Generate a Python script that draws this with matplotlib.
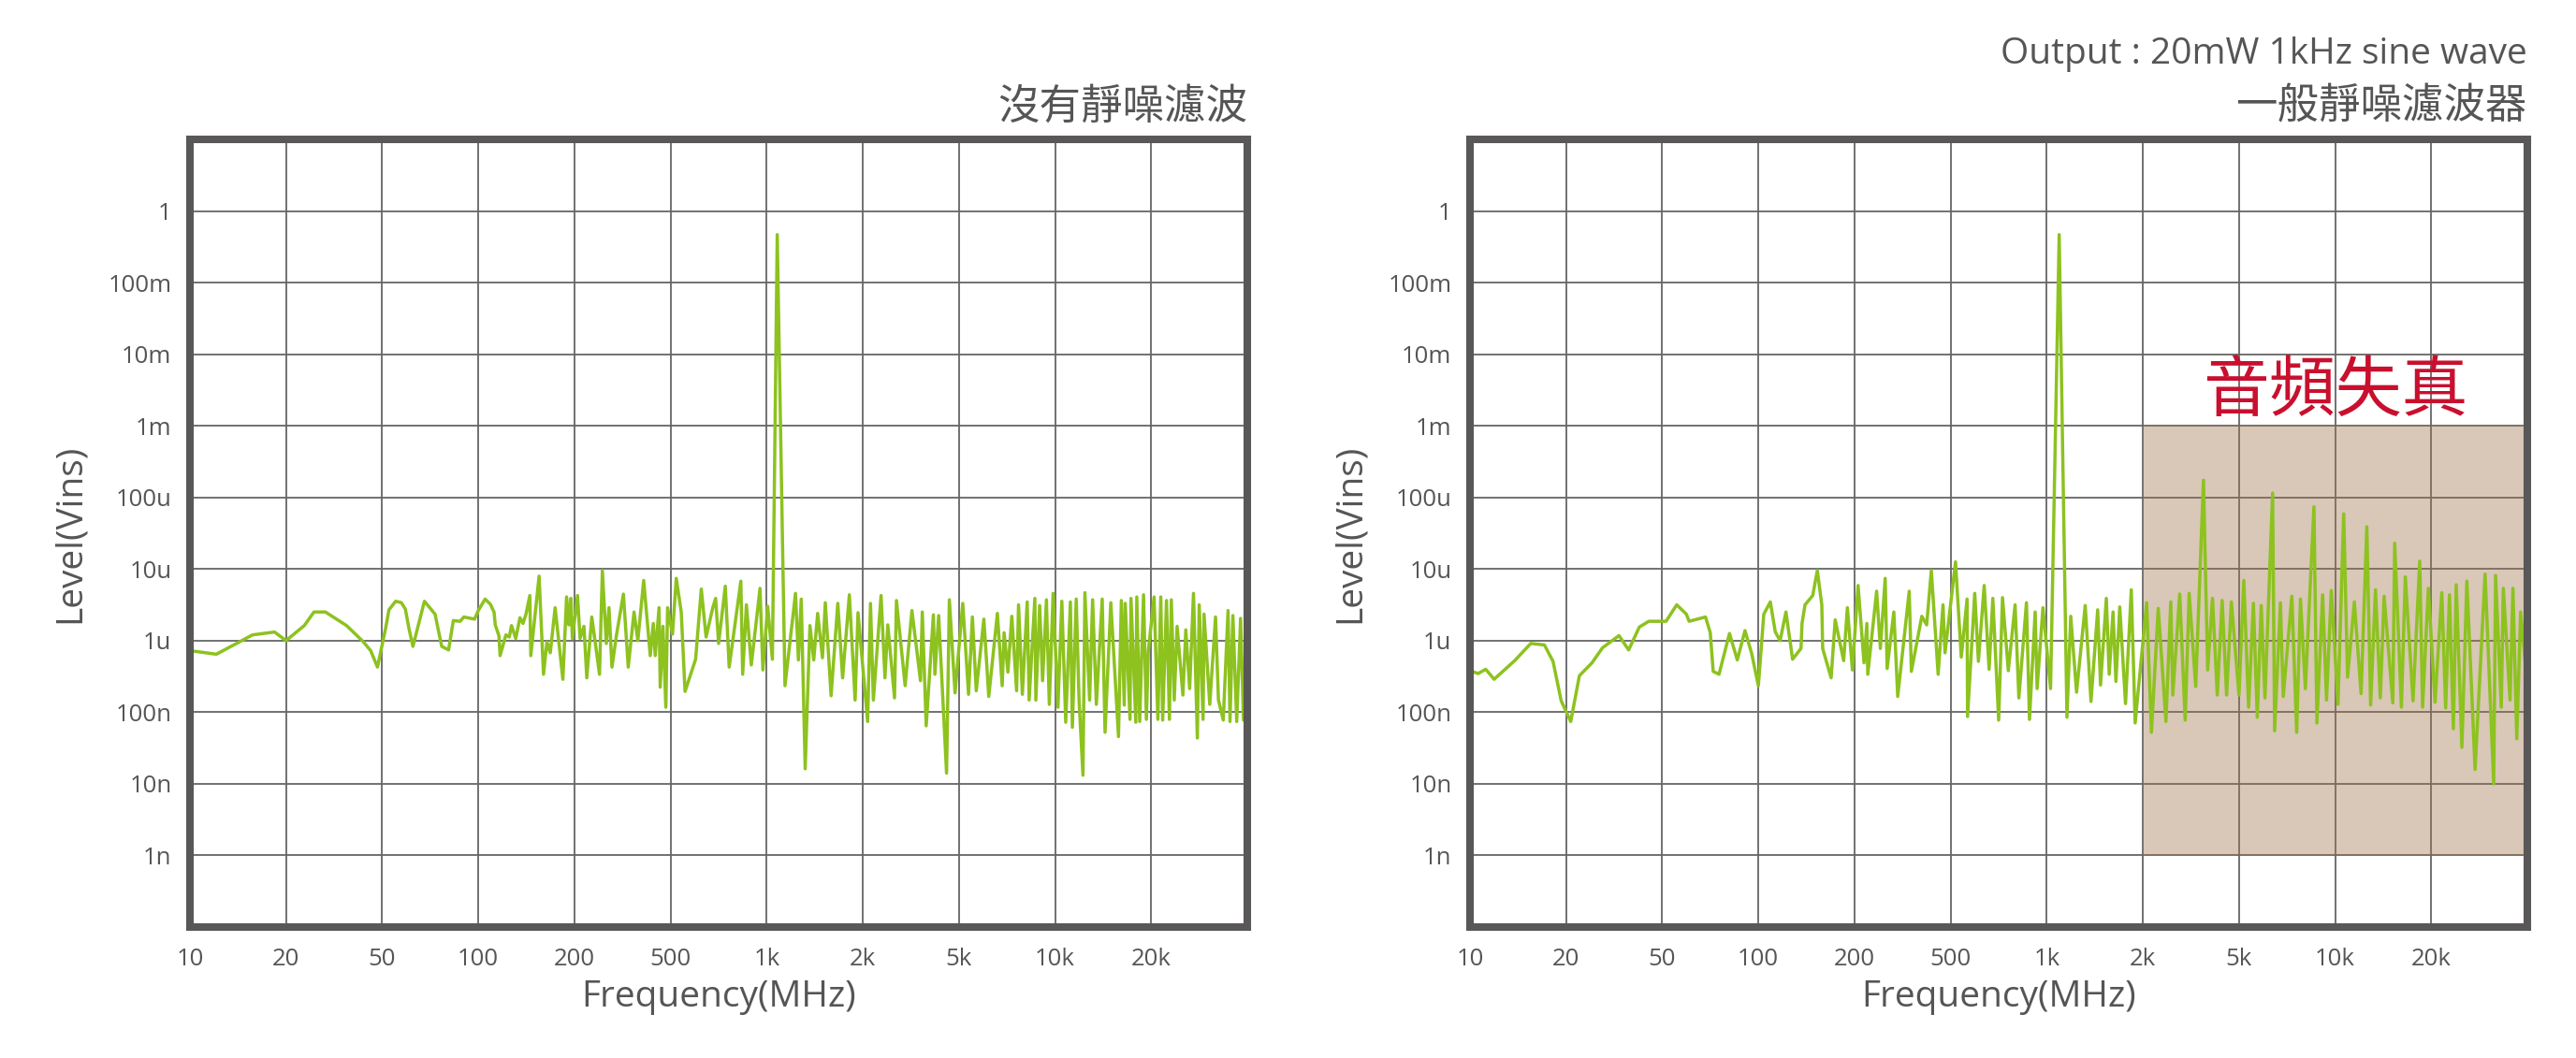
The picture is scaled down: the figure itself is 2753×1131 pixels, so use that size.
import numpy as np
import matplotlib
matplotlib.use("Agg")
import matplotlib.pyplot as plt
from matplotlib.ticker import NullLocator
from matplotlib.patches import Rectangle

plt.rcParams["font.family"] = ["Open Sans", "Noto Sans CJK TC", "DejaVu Sans"]

# ---------------- AXIS SETUP DATA ---------------- #
tick_freqs = [10, 20, 50, 100, 200, 500, 1000, 2000, 5000, 10000, 20000, 50000]
xtick_labels = ["10", "20", "50", "100", "200", "500", "1k", "2k", "5k", "10k", "20k"]
ytick_vals = [1e-9, 1e-8, 1e-7, 1e-6, 1e-5, 1e-4, 1e-3, 1e-2, 1e-1, 1]
ytick_labels = ["1n", "10n", "100n", "1u", "10u", "100u", "1m", "10m", "100m", "1"]

# ---------------- SPECTRUM: NO FILTER (left) ---------------- #
freq_left = [
    10, 12.1, 15.7, 18.4, 20, 23.8, 26.1, 29.1, 35.6, 41.6, 44.8, 47.8,
    51.4, 52.5, 55.1, 57.4, 59.1, 60.7, 62.4, 65.5, 67.8, 73.2, 76.8, 80.7, 83.5, 87.7, 90.1, 97.3,
    100, 105, 109, 112, 113, 116, 117, 122, 125, 127, 131, 135, 138, 141, 145, 146, 155, 160, 164,
    168, 174, 184, 189, 192, 195, 197,
    206, 211, 219, 225, 236, 254, 261, 271, 278, 286, 299, 319, 334, 353, 366, 387, 412, 424, 432,
    448, 453, 465, 478, 486,
    507, 521, 540, 555, 599, 624, 646, 678, 692, 707, 742, 763, 830, 841, 864, 895, 953, 973,
    1007, 1042, 1079, 1141, 1231, 1257, 1283, 1320, 1366, 1404, 1444, 1495, 1526, 1591, 1670, 1729,
    1815, 1892, 1932,
    2094, 2152, 2212, 2380, 2470, 2538, 2706, 2756, 2994, 3194, 3466, 3526, 3660, 3920, 3976, 4122,
    4444, 4564, 4818,
    5140, 5359, 5510, 5665, 5985, 6200, 6598, 6830, 6925, 7119, 7320, 7579, 7685, 7900, 8180, 8295,
    8645, 8706, 8950, 9140, 9397, 9595, 9862,
    10210, 10500, 10800, 11170, 11330, 11650, 11890, 12230, 12400, 12830, 13110, 13470, 14050, 14340,
    14950, 15800, 16130, 16470, 16590, 17170, 17290, 17900, 18030, 18410, 18930, 19320, 19590,
    20560, 21320, 21920, 22320, 23150, 23800, 24240, 24920, 25610, 27060, 27820, 28860, 29940, 31060,
    31620, 32800, 33100, 34960, 36940, 37980, 39760, 41620, 42400, 43580, 45200, 46900, 48200, 50000,
]
# level as log10(Vins)
lvl_left = [
    -6.14, -6.19, -5.92, -5.88, -6.00, -5.79, -5.60, -5.60, -5.79, -6.01, -6.14, -6.37,
    -5.80, -5.57, -5.45, -5.47, -5.56, -5.84, -6.08, -5.71, -5.45, -5.63, -6.08, -6.13, -5.72, -5.73, -5.67, -5.70,
    -5.58, -5.42, -5.49, -5.60, -5.78, -5.93, -6.21, -5.92, -5.95, -5.79, -5.97, -5.68, -5.76, -5.63, -5.37,
    -6.21, -5.10, -6.47, -6.02, -6.17, -5.54, -6.54, -5.39, -5.78, -5.41, -5.97,
    -5.37, -5.97, -5.80, -6.52, -5.67, -6.47, -5.02, -6.04, -5.54, -6.37, -5.91, -5.35, -6.37, -5.60, -6.00,
    -5.16, -6.21, -5.76, -6.21, -5.54, -6.65, -5.80, -6.93, -5.54,
    -5.91, -5.13, -5.60, -6.71, -6.26, -5.28, -5.95, -5.54, -5.41, -6.04, -5.24, -6.37, -5.17, -6.47, -5.50,
    -6.34, -5.27, -6.41,
    -5.52, -6.26, -0.33, -6.63, -5.34, -6.27, -5.42, -7.79, -5.79, -6.27, -5.62, -6.24, -5.47, -6.77, -5.48,
    -6.52, -5.36, -6.83, -5.61,
    -7.13, -5.48, -6.83, -5.37, -6.52, -5.78, -6.80, -5.44, -6.63, -5.58, -6.56, -5.60, -7.19, -5.64, -6.47,
    -5.65, -7.85, -5.43, -6.73,
    -5.48, -6.75, -5.67, -6.70, -5.70, -6.78, -5.62, -6.63, -5.89, -6.44, -5.66, -6.70, -5.50, -6.75, -5.46,
    -6.83, -5.41, -6.83, -5.51, -6.56, -5.43, -6.89, -5.34,
    -6.93, -5.45, -7.14, -5.46, -7.21, -5.42, -6.83, -7.88, -5.33, -6.83, -5.43, -6.89, -5.42, -7.28, -5.47,
    -7.34, -5.44, -6.90, -5.48, -7.10, -5.41, -7.14, -5.39, -7.13, -5.36, -7.10, -6.15,
    -5.39, -7.10, -5.39, -7.11, -5.44, -7.10, -5.43, -6.83, -5.80, -6.76, -5.85, -6.67, -5.34, -7.36, -5.50,
    -7.10, -5.63, -6.89, -5.67, -6.83, -7.11, -5.58, -7.13, -5.65, -7.13, -5.69, -7.11, -5.68,
]

# ---------------- SPECTRUM: NORMAL FILTER (right) ---------------- #
freq_right = [
    10, 10.6, 11.2, 11.9, 13.8, 15.5, 17.1, 18.2, 19.3, 20.9, 22.7, 25.6, 28.3, 33.1, 36.3, 40.2, 44.0,
    51.4, 55.5, 59.5, 60.7, 68.3, 70.7, 72.2, 75.3, 81.2, 85.9, 90.8, 95.3,
    100, 104, 109, 113, 117, 122, 128, 136, 137, 140, 148, 153, 158, 159, 169, 174, 185, 190, 197,
    207, 219, 225, 227, 247, 256, 268, 273, 291, 302, 337, 344, 380, 398, 416, 444, 465, 474,
    518, 540, 563, 565, 595, 611, 637, 660, 678, 707, 727, 758, 796, 818, 864, 883, 920, 933, 973,
    1028, 1094, 1157, 1189, 1240, 1320, 1376, 1444, 1474, 1537, 1569, 1613, 1647, 1693, 1765, 1840, 1892,
    2074, 2170, 2316, 2492, 2610, 2660, 2842, 2994, 3110, 3310, 3564, 3710, 3884, 4066, 4260, 4444, 4650,
    5000, 5177, 5359, 5548, 5705, 5870, 6030, 6372, 6465, 6740, 6880, 7320, 7580, 7790, 8070, 8585,
    8770, 9140, 9400, 9730,
    10210, 10640, 10940, 11490, 12060, 12570, 12920, 13380, 13850, 14240, 15160, 15370, 16130, 16590,
    17540, 18410, 18790, 19590,
    20740, 22120, 22950, 23800, 24700, 25380, 26790, 28090, 30380, 33420, 36280, 36940, 39000, 39760,
    42400, 43580, 45200, 46900, 50000,
]
lvl_right = [
    -6.42, -6.46, -6.40, -6.54, -6.28, -6.04, -6.06, -6.29, -6.84, -7.13, -6.49, -6.31, -6.10, -5.93, -6.13,
    -5.81, -5.73,
    -5.73, -5.50, -5.63, -5.73, -5.67, -5.89, -6.43, -6.47, -5.90, -6.27, -5.86, -6.18,
    -6.63, -5.63, -5.46, -5.88, -6.00, -5.60, -6.26, -6.11, -5.76, -5.50, -5.37, -5.02, -5.50, -6.11, -6.52,
    -5.71, -6.28, -5.54, -6.41,
    -5.23, -6.31, -5.76, -6.47, -5.31, -6.11, -5.13, -6.39, -5.60, -6.78, -5.31, -6.43, -5.66, -5.78, -5.02,
    -6.47, -5.50, -6.17,
    -4.90, -6.23, -5.42, -7.06, -5.34, -6.29, -5.23, -6.40, -5.41, -7.11, -5.40, -6.42, -5.50, -6.80, -5.47,
    -7.10, -5.60, -6.67, -5.54,
    -6.67, -0.33, -7.07, -5.66, -6.72, -5.51, -6.85, -5.57, -6.62, -5.41, -6.47, -5.60, -6.57, -5.53, -6.88,
    -5.29, -7.15,
    -5.47, -7.28, -5.55, -7.13, -5.46, -6.76, -5.35, -7.11, -5.34, -6.64, -3.76, -6.41, -5.41, -6.76, -5.44,
    -6.76, -5.46,
    -6.76, -5.16, -6.93, -5.48, -7.07, -5.51, -6.80, -3.94, -7.26, -5.47, -6.78, -5.38, -7.28, -5.42, -6.67,
    -4.13, -7.15, -5.36, -6.83, -5.30,
    -6.89, -4.23, -6.51, -5.46, -6.74, -4.41, -6.90, -5.29, -6.80, -5.38, -6.87, -4.64, -6.93, -5.11, -6.84,
    -4.89, -6.93, -5.27,
    -6.86, -5.33, -6.94, -5.36, -7.23, -5.22, -7.49, -5.17, -7.80, -5.07, -8.00, -5.09, -6.93, -5.27, -6.83,
    -5.27, -7.37, -5.60, -6.63,
]

# distortion area (right panel)
dist_freq = [2000, 50000]
dist_level = [1e-9, 1e-3]

GREEN = "#8DC21F"
FRAME = "#595757"
GRID = "#666666"
TEXT = "#555555"

# x axis: 1-2-5 frequency steps drawn equally spaced
log_t = np.log10(tick_freqs)
idx = np.arange(len(tick_freqs), dtype=float)


def fwd(f):
    f = np.clip(np.asarray(f, dtype=float), 1e-6, None)
    return np.interp(np.log10(f), log_t, idx)


def inv(p):
    return 10 ** np.interp(np.asarray(p, dtype=float), idx, log_t)


fig = plt.figure(figsize=(27.53, 11.31), dpi=100)
W, H = 2753, 1131
ax_l = fig.add_axes([203 / W, (H - 991) / H, 1130 / W, 842 / H])
ax_r = fig.add_axes([1571 / W, (H - 991) / H, 1130 / W, 842 / H])


def style_axes(ax):
    ax.set_xscale("function", functions=(fwd, inv))
    ax.set_yscale("log")
    ax.set_xlim(tick_freqs[0], tick_freqs[-1])
    ax.set_ylim(1e-10, 10)
    ax.set_xticks(tick_freqs[:-1], labels=xtick_labels)
    ax.set_yticks(ytick_vals, labels=ytick_labels)
    ax.xaxis.set_minor_locator(NullLocator())
    ax.yaxis.set_minor_locator(NullLocator())
    ax.tick_params(axis="both", length=0, labelsize=18.5, labelcolor=TEXT)
    ax.tick_params(axis="x", pad=16)
    ax.tick_params(axis="y", pad=14)
    ax.set_axisbelow(True)
    ax.grid(True, which="major", color=GRID, linewidth=1.3)
    for sp in ax.spines.values():
        sp.set_linewidth(5.8)
        sp.set_color(FRAME)
        sp.set_capstyle("projecting")
        sp.set_zorder(5)
    ax.set_xlabel("Frequency(MHz)", fontsize=28, color=TEXT)
    ax.xaxis.set_label_coords(0.5, -0.066)
    ax.set_ylabel("Level(Vins)", fontsize=28, color=TEXT)
    ax.yaxis.set_label_coords(-0.097, 0.5)


style_axes(ax_l)
ax_l.plot(freq_left, 10 ** np.array(lvl_left), color=GREEN, lw=2.5, zorder=3)
ax_l.text(1.0, 1.042, "沒有靜噪濾波", transform=ax_l.transAxes, ha="right", va="center",
          fontsize=32, color=TEXT, family=["Noto Sans CJK TC"])

style_axes(ax_r)
ax_r.add_patch(Rectangle((dist_freq[0], dist_level[0]), dist_freq[1] - dist_freq[0],
                         dist_level[1] - dist_level[0], facecolor="#A0734D", alpha=0.4,
                         edgecolor="none", zorder=1))
ax_r.plot(freq_right, 10 ** np.array(lvl_right), color=GREEN, lw=2.5, zorder=3)
ax_r.text(10000, 3e-3, "音頻失真", ha="center", va="center", fontsize=51,
          color="#C8102E", family=["Noto Sans CJK TC"], zorder=4)
ax_r.text(1.0, 1.042, "一般靜噪濾波器", transform=ax_r.transAxes, ha="right", va="center",
          fontsize=32, color=TEXT, family=["Noto Sans CJK TC"])
ax_r.text(1.0, 1.108, "Output : 20mW 1kHz sine wave", transform=ax_r.transAxes, ha="right",
          va="center", fontsize=28, color=TEXT)

fig.savefig("out.png", dpi=100)
